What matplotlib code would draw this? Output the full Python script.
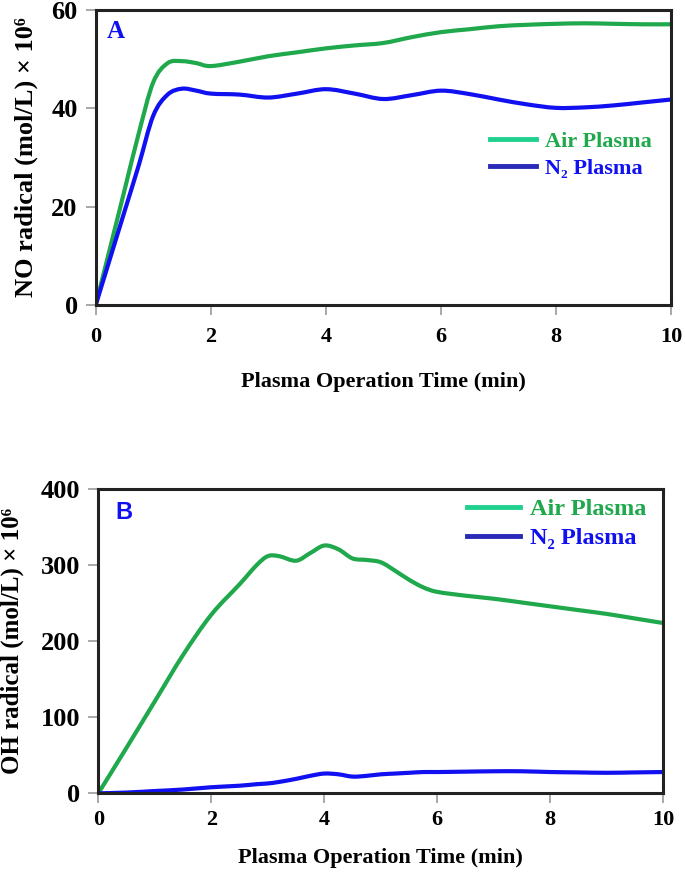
import matplotlib
matplotlib.use("Agg")
import numpy as np
import matplotlib.pyplot as plt
from matplotlib.lines import Line2D
from matplotlib.path import Path
from matplotlib.patches import PathPatch

plt.rcParams['font.family'] = ['Liberation Serif', 'DejaVu Serif']
plt.rcParams['font.weight'] = 'bold'

# Panel A: NO radical
time_a = [0, 0.25, 0.5, 0.75, 1.0, 1.25, 1.5, 1.75, 2.0, 2.5, 3.0, 3.5, 4.0, 4.5,
          5.0, 5.5, 6.0, 6.5, 7.0, 7.5, 8.0, 8.5, 9.0, 9.5, 10]
no_air = [0, 11.6, 23.3, 35, 45.3, 49.2, 49.6, 49.2, 48.6, 49.5, 50.6, 51.4, 52.2, 52.8,
          53.3, 54.5, 55.5, 56.1, 56.7, 57.0, 57.2, 57.3, 57.2, 57.1, 57.1]
no_n2 = [0, 9.5, 19, 28.5, 38.5, 42.8, 44.0, 43.6, 43.0, 42.8, 42.2, 43.0, 43.9, 43.0,
         41.9, 42.7, 43.6, 42.9, 41.8, 40.8, 40.1, 40.2, 40.6, 41.2, 41.8]

# Panel B: OH radical
time_b = [0, 0.5, 1.0, 1.5, 2.0, 2.5, 2.8, 3.0, 3.2, 3.5, 3.75, 4.0, 4.25, 4.5, 4.75,
          5.0, 5.25, 5.5, 5.75, 6.0, 6.5, 7.0, 7.5, 8.0, 8.5, 9.0, 9.5, 10]
oh_air = [0, 60, 121, 182, 235, 275, 300, 312, 312, 306, 316, 326, 321, 309, 307,
          304, 293, 281, 271, 265, 260, 256, 251, 246, 241, 236, 230, 224]
oh_n2 = [0, 1, 3, 5, 8, 10, 12, 13, 15, 19, 23, 26, 25, 22, 23,
         25, 26, 27, 28, 28, 28.5, 29, 29, 28, 27.5, 27, 27.5, 28]

green = '#1fa84c'
blue = '#1010f0'
leg_green = '#1fd08e'
leg_blue = '#2a2ab8'
labels = ['Air Plasma', 'N\u2082 Plasma']


def smooth_line(ax, x, y, color):
    # Excel-style smoothed line: Bezier segments through the points
    p = np.column_stack([x, y]).astype(float)
    verts = [p[0]]
    codes = [Path.MOVETO]
    for i in range(len(p) - 1):
        p0 = p[i - 1] if i > 0 else p[i]
        p3 = p[i + 2] if i + 2 < len(p) else p[i + 1]
        c1 = p[i] + (p[i + 1] - p0) / 6.0
        c2 = p[i + 1] - (p3 - p[i]) / 6.0
        verts += [c1, c2, p[i + 1]]
        codes += [Path.CURVE4] * 3
    ax.add_patch(PathPatch(Path(verts, codes), facecolor='none', edgecolor=color,
                           lw=3, capstyle='round', joinstyle='round'))


fig = plt.figure(figsize=(6.85, 8.8), dpi=100)
ax1 = fig.add_axes([0.1397, 0.6534, 0.8400, 0.3352])
ax2 = fig.add_axes([0.1435, 0.0985, 0.8248, 0.3455])


def style(ax, ymax, ystep, ylabel, ysize, xpad, xlabelpad):
    ax.set_xlim(0, 10)
    ax.set_ylim(0, ymax)
    ax.set_xticks(range(0, 11, 2))
    ax.set_yticks(range(0, ymax + 1, ystep))
    for s in ax.spines.values():
        s.set_linewidth(2.2)
        s.set_color('#222222')
    ax.tick_params(direction='out', length=7, width=1.2, color='#999999')
    ax.tick_params(axis='x', pad=xpad, labelsize=16)
    ax.tick_params(axis='y', pad=6, labelsize=19)
    for lab in ax.get_xticklabels() + ax.get_yticklabels():
        lab.set_fontweight('bold')
    ax.set_xlabel('Plasma Operation Time (min)', fontsize=16, fontweight='bold',
                  labelpad=xlabelpad)
    ax.set_ylabel(ylabel, fontsize=ysize, fontweight='bold')


smooth_line(ax1, time_a, no_air, green)
smooth_line(ax1, time_a, no_n2, blue)
style(ax1, 60, 20, 'NO radical (mol/L) \u00d7 10\u2076', 19, 9, 18)
ax1.yaxis.set_label_coords(-0.100, 0.5)
ax1.text(0.02, 0.965, 'A', transform=ax1.transAxes, color=blue, fontsize=18,
         fontweight='bold', va='top', ha='left')

smooth_line(ax2, time_b, oh_air, green)
smooth_line(ax2, time_b, oh_n2, blue)
style(ax2, 400, 100, 'OH radical (mol/L) \u00d7 10\u2076', 18, 5, 13)
ax2.yaxis.set_label_coords(-0.1315, 0.5)
ax2.text(0.03, 0.96, 'B', transform=ax2.transAxes, color=blue, fontsize=17,
         fontweight='bold', va='top', ha='left', family='Liberation Sans')

handles = [Line2D([], [], color=leg_green, lw=3.5),
           Line2D([], [], color=leg_blue, lw=3.5)]
for ax, loc, fs, hl in [(ax1, (0.65, 0.36), 16, 2.1), (ax2, (0.613, 0.73), 17.5, 2.2)]:
    leg = ax.legend(handles, labels, loc='lower left', bbox_to_anchor=loc,
                    frameon=False, fontsize=fs, handlelength=hl,
                    handletextpad=0.4, labelspacing=0.3,
                    labelcolor=[green, blue])
    for t in leg.get_texts():
        t.set_fontweight('bold')

fig.savefig('out.png', dpi=100)
